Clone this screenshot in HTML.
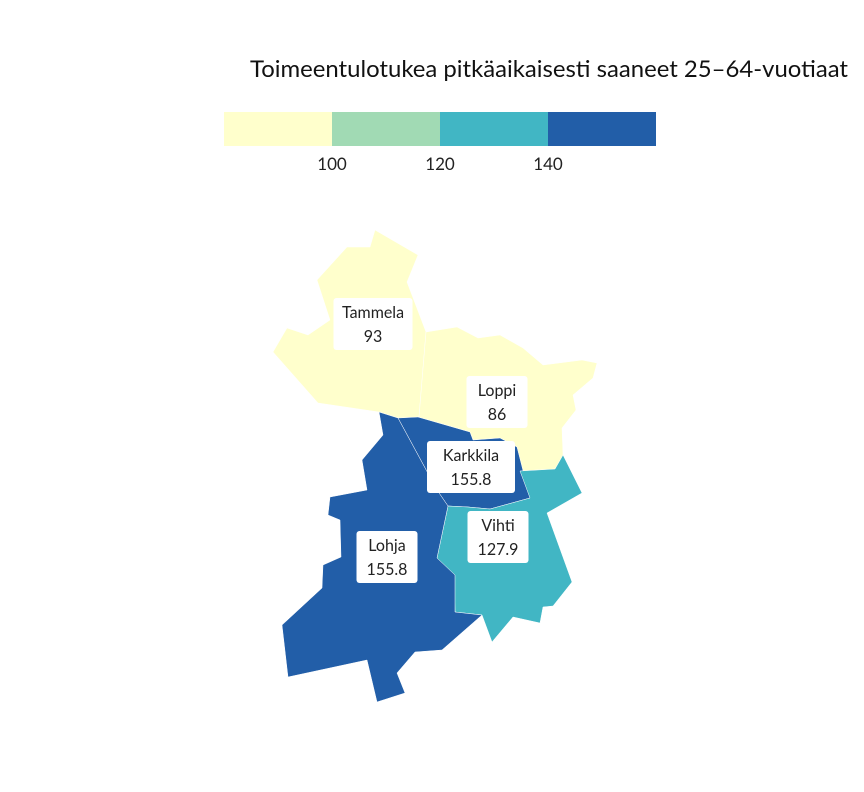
<!DOCTYPE html>
<html><head><meta charset="utf-8"><style>
html,body{margin:0;padding:0;background:#fff;}
svg{display:block;font-family:"Lato","Liberation Sans",sans-serif;}
</style></head><body>
<svg id="chart" width="864" height="792" viewBox="0 0 864 792">
<text x="250" y="77" font-size="23" textLength="598" lengthAdjust="spacingAndGlyphs" fill="#111">Toimeentulotukea pitkäaikaisesti saaneet 25–64-vuotiaat</text>
<g id="legend"></g>
<g id="map"></g>
<g id="labels"></g>
</svg>
<script>
const regions = ["Tammela","Loppi","Karkkila","Vihti","Lohja"];
const values = [93, 86, 155.8, 127.9, 155.8];
const breaks = [100, 120, 140];
const colors = ["#ffffcc","#a1dab4","#41b6c4","#225ea8"];
const shapes = {
  Tammela:[[375,230],[418,255],[407,282],[426,332],[419,417],[398,418],[379,412],[318,403],[273,352],[287,328],[308,335],[330,320],[317,280],[347,247],[370,247]],
  Loppi:[[426,332],[457,327],[478,338],[500,335],[523,348],[543,365],[582,360],[597,363],[593,378],[573,395],[576,410],[562,428],[563,455],[555,469],[520,471],[517,447],[500,438],[473,440],[470,432],[418,417],[419,417]],
  Karkkila:[[398,418],[418,417],[470,432],[473,440],[500,438],[517,447],[530,498],[490,509],[468,507],[448,506],[437,490]],
  Vihti:[[448,506],[468,507],[490,509],[530,498],[520,471],[555,469],[563,455],[582,493],[547,513],[572,582],[553,606],[543,607],[540,623],[513,617],[492,642],[482,615],[455,612],[454,575],[437,558]],
  Lohja:[[379,412],[398,418],[437,490],[448,506],[437,558],[455,575],[455,612],[482,615],[442,650],[415,652],[397,673],[405,693],[377,702],[367,660],[288,677],[282,625],[322,588],[323,565],[341,557],[340,520],[328,515],[330,497],[367,490],[362,460],[383,435]]
};
const labelPos = {Tammela:[373,324],Loppi:[497,402],Karkkila:[471,467],Vihti:[498,537],Lohja:[387,557]};
const NS="http://www.w3.org/2000/svg";
function colorFor(v){let i=0;while(i<breaks.length&&v>=breaks[i])i++;return colors[i];}
const lx0=224, lw=108, ly=112, lh=34;
const leg=document.getElementById('legend');
colors.forEach((c,i)=>{
  const r=document.createElementNS(NS,'rect');
  r.setAttribute('x',lx0+i*lw);r.setAttribute('y',ly);r.setAttribute('width',lw);r.setAttribute('height',lh);r.setAttribute('fill',c);
  
  
  leg.appendChild(r);
});
breaks.forEach((b,i)=>{
  const t=document.createElementNS(NS,'text');
  t.setAttribute('x',lx0+(i+1)*lw);t.setAttribute('y',170);t.setAttribute('text-anchor','middle');t.setAttribute('font-size','17');t.setAttribute('fill','#222');
  t.textContent=b;
  
  
  leg.appendChild(t);
});
const map=document.getElementById('map'), lab=document.getElementById('labels');
regions.forEach((name,i)=>{
  const p=document.createElementNS(NS,'polygon');
  p.setAttribute('points',shapes[name].map(q=>q.join(',')).join(' '));
  p.setAttribute('fill',colorFor(values[i]));p.setAttribute('stroke','#ffffff');p.setAttribute('stroke-width','0.5');
  
  
  map.appendChild(p);
  const [cx,cy]=labelPos[name];
  const g=document.createElementNS(NS,'g');
  
  
  const w=Math.max(name.length*9+16,String(values[i]).length*9+16);
  const r=document.createElementNS(NS,'rect');
  r.setAttribute('x',cx-w/2);r.setAttribute('y',cy-26);r.setAttribute('width',w);r.setAttribute('height',52);r.setAttribute('rx',3);r.setAttribute('fill','#fff');
  g.appendChild(r);
  const t1=document.createElementNS(NS,'text');
  t1.setAttribute('x',cx);t1.setAttribute('y',cy-6);t1.setAttribute('text-anchor','middle');t1.setAttribute('font-size','16');t1.setAttribute('fill','#222');t1.textContent=name;
  g.appendChild(t1);
  const t2=document.createElementNS(NS,'text');
  t2.setAttribute('x',cx);t2.setAttribute('y',cy+18);t2.setAttribute('text-anchor','middle');t2.setAttribute('font-size','16');t2.setAttribute('fill','#222');t2.textContent=values[i];
  g.appendChild(t2);
  lab.appendChild(g);
});
</script>
</body></html>
